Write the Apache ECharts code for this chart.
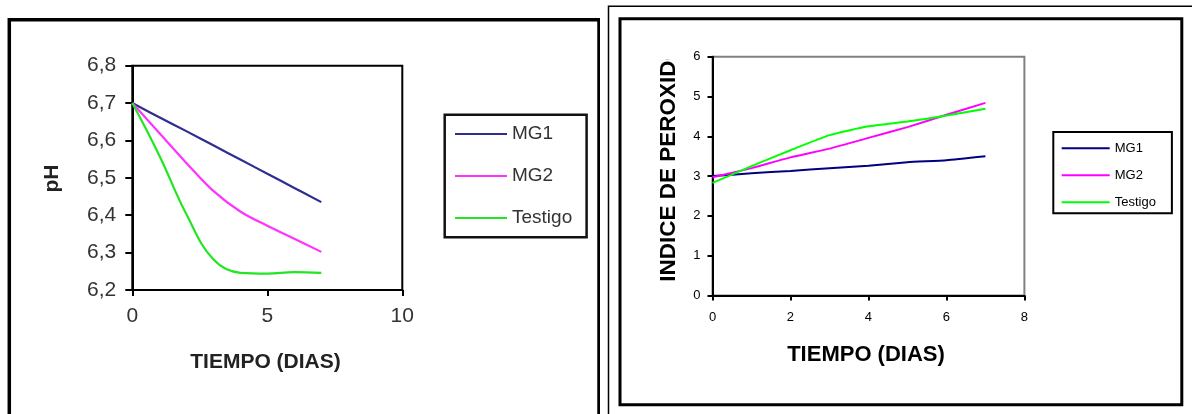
<!DOCTYPE html>
<html>
<head>
<meta charset="utf-8">
<script src="https://cdn.jsdelivr.net/npm/echarts@6/dist/echarts.min.js"></script>
<style>
  html, body { margin: 0; padding: 0; background: #fff; }
  #wrap { position: relative; width: 1192px; height: 414px; overflow: hidden; }
  #left { position: absolute; left: 0; top: 0; width: 600px; height: 414px; }
  #right { position: absolute; left: 600px; top: 0; width: 592px; height: 414px; }
</style>
</head>
<body>
<div id="wrap"><div id="left"></div><div id="right"></div></div>
<script>
// ---- data ----
const seriesNames = ['MG1', 'MG2', 'Testigo'];
const days = [0, 1, 2, 3, 4, 5, 6, 7];

// Left chart: pH vs days
const phMG1 = [6.70, 6.662, 6.625, 6.587, 6.549, 6.511, 6.473, 6.435];
const phMG2 = [6.70, 6.620, 6.540, 6.465, 6.410, 6.372, 6.337, 6.302];
const phTestigo = [6.70, 6.560, 6.403, 6.282, 6.246, 6.244, 6.248, 6.246];
const phXTicks = [0, 5, 10];
const phYTicks = ['6,2', '6,3', '6,4', '6,5', '6,6', '6,7', '6,8'];

// Right chart: peroxide index vs days
const perMG1 = [3.00, 3.07, 3.13, 3.20, 3.26, 3.35, 3.40, 3.50];
const perMG2 = [2.97, 3.20, 3.47, 3.69, 3.96, 4.23, 4.54, 4.84];
const perTestigo = [2.83, 3.25, 3.65, 4.03, 4.25, 4.37, 4.52, 4.69];
const perXTicks = [0, 2, 4, 6, 8];
const perYTicks = [0, 1, 2, 3, 4, 5, 6];

const FONT = '"Liberation Sans", Arial, sans-serif';
const pairs = (ys) => days.map((d, i) => [d, ys[i]]);

// ---- left chart ----
const leftColors = ['#2e2e90', '#ff33ff', '#22e622'];
const left = echarts.init(document.getElementById('left'), null, { renderer: 'canvas' });
left.setOption({
  animation: false,
  grid: { left: 132.3, top: 65.7, width: 270, height: 224.3, show: true,
          borderColor: '#000', borderWidth: 2, backgroundColor: '#fff' },
  xAxis: {
    type: 'value', min: phXTicks[0], max: phXTicks[phXTicks.length - 1], interval: 5,
    axisLine: { lineStyle: { color: '#000', width: 2 } },
    axisTick: { show: true, length: 6, lineStyle: { color: '#000', width: 2 } },
    axisLabel: { margin: 15.5, fontSize: 21, color: '#333', fontFamily: FONT },
    splitLine: { show: false }
  },
  yAxis: {
    type: 'value', min: 6.2, max: 6.8, interval: 0.1,
    axisLine: { show: true, lineStyle: { color: '#000', width: 2 } },
    axisTick: { show: true, length: 7, lineStyle: { color: '#000', width: 2 } },
    axisLabel: { margin: 16, fontSize: 21, color: '#333', fontFamily: FONT,
      formatter: (v) => phYTicks[Math.round((v - 6.2) * 10)] },
    splitLine: { show: false }
  },
  legend: {
    orient: 'vertical', left: 444.7, top: 114.7,
    padding: [9.3, 14.4, 9.3, 10.3],
    icon: 'rect', itemWidth: 52, itemHeight: 2, itemGap: 22,
    borderColor: '#111', borderWidth: 2.5, backgroundColor: '#fff',
    textStyle: { fontSize: 19, color: '#333', lineHeight: 20, fontFamily: FONT },
    data: seriesNames, selectedMode: false
  },
  series: [
    { name: seriesNames[0], type: 'line', data: pairs(phMG1), smooth: 0.4, symbol: 'none',
      lineStyle: { color: leftColors[0], width: 2.2 }, itemStyle: { color: leftColors[0] } },
    { name: seriesNames[1], type: 'line', data: pairs(phMG2), smooth: 0.4, symbol: 'none',
      lineStyle: { color: leftColors[1], width: 2.2 }, itemStyle: { color: leftColors[1] } },
    { name: seriesNames[2], type: 'line', data: pairs(phTestigo), smooth: 0.4, symbol: 'none',
      lineStyle: { color: leftColors[2], width: 2.2 }, itemStyle: { color: leftColors[2] } }
  ],
  graphic: [
    { type: 'rect', silent: true, z: 100,
      shape: { x: 9.3, y: 19.8, width: 589.7, height: 500 },
      style: { fill: 'none', stroke: '#000', lineWidth: 3.5 } },
    { type: 'text', silent: true, x: 52, y: 178.5, rotation: Math.PI / 2,
      style: { text: 'pH', fontSize: 21, fontWeight: 'bold', fontFamily: FONT, fill: '#222',
               align: 'center', verticalAlign: 'middle' } },
    { type: 'text', silent: true, x: 265.5, y: 362,
      style: { text: 'TIEMPO (DIAS)', fontSize: 21, fontWeight: 'bold', fontFamily: FONT, fill: '#222',
               align: 'center', verticalAlign: 'middle' } }
  ]
});

// ---- right chart ----
const rightColors = ['#000080', '#ff00ff', '#00ff00'];
const right = echarts.init(document.getElementById('right'), null, { renderer: 'canvas' });
right.setOption({
  animation: false,
  grid: { left: 112.5, top: 56.7, width: 311.9, height: 238.8, show: true,
          borderColor: '#808080', borderWidth: 2, backgroundColor: '#fff' },
  xAxis: {
    type: 'value', min: perXTicks[0], max: perXTicks[perXTicks.length - 1], interval: 2,
    axisLine: { lineStyle: { color: '#000', width: 2 } },
    axisTick: { show: true, length: 5, lineStyle: { color: '#000', width: 2 } },
    axisLabel: { margin: 15, fontSize: 13, color: '#000', fontFamily: FONT },
    splitLine: { show: false }
  },
  yAxis: {
    type: 'value', min: perYTicks[0], max: perYTicks[perYTicks.length - 1], interval: 1,
    axisLine: { show: true, lineStyle: { color: '#000', width: 2 } },
    axisTick: { show: true, length: 5, lineStyle: { color: '#000', width: 2 } },
    axisLabel: { margin: 12, fontSize: 13, color: '#000', fontFamily: FONT },
    splitLine: { show: false }
  },
  legend: {
    orient: 'vertical', left: 453.3, top: 132,
    padding: [9.3, 16, 4, 8.4],
    icon: 'rect', itemWidth: 48, itemHeight: 2, itemGap: 13,
    borderColor: '#000', borderWidth: 2, backgroundColor: '#fff',
    textStyle: { fontSize: 13, color: '#000', lineHeight: 14, fontFamily: FONT },
    data: seriesNames, selectedMode: false
  },
  series: [
    { name: seriesNames[0], type: 'line', data: pairs(perMG1), smooth: 0.15, symbol: 'none',
      lineStyle: { color: rightColors[0], width: 2 }, itemStyle: { color: rightColors[0] } },
    { name: seriesNames[1], type: 'line', data: pairs(perMG2), smooth: 0.15, symbol: 'none',
      lineStyle: { color: rightColors[1], width: 2 }, itemStyle: { color: rightColors[1] } },
    { name: seriesNames[2], type: 'line', data: pairs(perTestigo), smooth: 0.15, symbol: 'none',
      lineStyle: { color: rightColors[2], width: 2 }, itemStyle: { color: rightColors[2] } }
  ],
  graphic: [
    { type: 'rect', silent: true, z: 100,
      shape: { x: 8.5, y: 6.2, width: 800, height: 600 },
      style: { fill: 'none', stroke: '#000', lineWidth: 1.5 } },
    { type: 'rect', silent: true, z: 100,
      shape: { x: 20, y: 18.7, width: 561.8, height: 386 },
      style: { fill: 'none', stroke: '#000', lineWidth: 3 } },
    { type: 'text', silent: true, z: 50, x: 68.7, y: 281.7, rotation: Math.PI / 2,
      style: { text: 'INDICE DE PEROXIDO', fontSize: 22.5, fontWeight: 'bold', fontFamily: FONT, fill: '#000',
               align: 'left', verticalAlign: 'middle' } },
    { type: 'rect', silent: true, z: 60,
      shape: { x: 50, y: 21, width: 38, height: 38.5 },
      style: { fill: '#fff', stroke: 'none' } },
    { type: 'text', silent: true, x: 266, y: 354.5,
      style: { text: 'TIEMPO (DIAS)', fontSize: 22, fontWeight: 'bold', fontFamily: FONT, fill: '#000',
               align: 'center', verticalAlign: 'middle' } }
  ]
});
</script>
</body>
</html>
